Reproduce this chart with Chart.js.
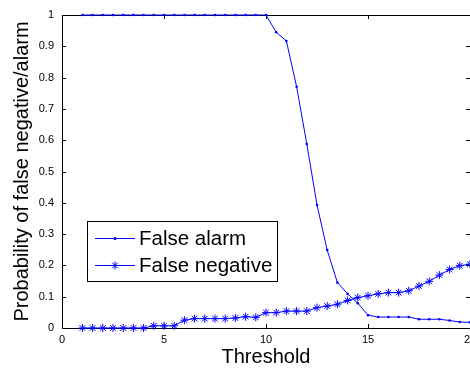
<!DOCTYPE html>
<html>
<head>
<meta charset="utf-8">
<script src="https://cdn.jsdelivr.net/npm/chart.js@4/dist/chart.umd.min.js"></script>
<style>
  html, body { margin: 0; padding: 0; background: #fff; overflow: hidden; }
  #wrap { width: 470px; height: 369px; overflow: hidden; position: relative; }
  canvas { display: block; }
</style>
</head>
<body>
<div id="wrap"><canvas id="thresholdChart" width="490" height="369" style="width:490px;height:369px"></canvas></div>
<script>
// threshold values on the x axis
const thresholds = [1, 1.5, 2, 2.5, 3, 3.5, 4, 4.5, 5, 5.5, 6, 6.5, 7, 7.5, 8, 8.5, 9, 9.5, 10,
	10.5, 11, 11.5, 12, 12.5, 13, 13.5, 14, 14.5, 15, 15.5, 16, 16.5, 17, 17.5, 18, 18.5, 19, 19.5, 20];

const falseAlarm = [1, 1, 1, 1, 1, 1, 1, 1, 1, 1, 1, 1, 1, 1, 1, 1, 1, 1, 1,
	0.945, 0.917, 0.771, 0.588, 0.393, 0.249, 0.145, 0.109, 0.079, 0.041, 0.035, 0.035, 0.035, 0.035,
	0.028, 0.028, 0.028, 0.024, 0.019, 0.018];

const falseNegative = [0, 0, 0, 0, 0, 0, 0, 0.007, 0.007, 0.007, 0.025, 0.03, 0.03, 0.03, 0.03,
	0.032, 0.036, 0.034, 0.049, 0.049, 0.054, 0.054, 0.054, 0.065, 0.07, 0.076, 0.088, 0.097, 0.103,
	0.109, 0.113, 0.113, 0.119, 0.134, 0.149, 0.169, 0.187, 0.199, 0.204];

const xTickStep = 5;
const yTickStep = 0.1;

const seriesLabels = ['False alarm', 'False negative'];
const FONT = '"Liberation Sans", Arial, Helvetica, sans-serif';
const BLUE = '#0000ff';

function toPoints(ys) {
	return thresholds.map((x, i) => ({ x: x, y: ys[i] }));
}

// MATLAB style box with inward ticks
const boxPlugin = {
	id: 'matlabBox',
	beforeDatasetsDraw: (chart) => {
		const { ctx, chartArea } = chart;
		const { left, right, top, bottom } = chartArea;
		const xs = chart.scales.x, ys = chart.scales.y;
		ctx.save();
		ctx.strokeStyle = '#000';
		ctx.lineWidth = 1;
		ctx.beginPath();
		xs.ticks.forEach(t => {
			const px = Math.round(xs.getPixelForValue(t.value)) + 0.5;
			ctx.moveTo(px, bottom); ctx.lineTo(px, bottom - 4);
			ctx.moveTo(px, top); ctx.lineTo(px, top + 4);
		});
		ys.ticks.forEach(t => {
			const py = Math.round(ys.getPixelForValue(t.value)) + 0.5;
			ctx.moveTo(left, py); ctx.lineTo(left + 4, py);
			ctx.moveTo(right, py); ctx.lineTo(right - 4, py);
		});
		ctx.stroke();
		ctx.strokeRect(Math.round(left) + 0.5, Math.round(top) + 0.5, Math.round(right - left), Math.round(bottom - top));
		ctx.restore();
	}
};

function drawStar(ctx, x, y, r) {
	ctx.beginPath();
	for (let k = 0; k < 4; k++) {
		const a = k * Math.PI / 4;
		ctx.moveTo(x - r * Math.cos(a), y - r * Math.sin(a));
		ctx.lineTo(x + r * Math.cos(a), y + r * Math.sin(a));
	}
	ctx.stroke();
}

const legendPlugin = {
	id: 'boxLegend',
	afterDraw: (chart) => {
		const ctx = chart.ctx;
		const bx = 87.5, by = 221.5, bw = 190, bh = 60;
		ctx.save();
		ctx.fillStyle = '#fff';
		ctx.fillRect(bx, by, bw, bh);
		ctx.strokeStyle = '#000';
		ctx.lineWidth = 1;
		ctx.strokeRect(bx, by, bw, bh);

		const rows = [238, 265];
		ctx.font = `20.5px ${FONT}`;
		ctx.textBaseline = 'middle';
		rows.forEach((ry, i) => {
			ctx.strokeStyle = BLUE;
			ctx.lineWidth = 1;
			ctx.beginPath();
			ctx.moveTo(95, ry + 0.5); ctx.lineTo(135, ry + 0.5);
			ctx.stroke();
			if (i === 0) {
				ctx.fillStyle = BLUE;
				ctx.beginPath(); ctx.arc(115, ry + 0.5, 1.5, 0, Math.PI * 2); ctx.fill();
			} else {
				drawStar(ctx, 115, ry + 0.5, 4);
			}
			ctx.fillStyle = '#000';
			ctx.fillText(seriesLabels[i], 139, ry + 1);
		});
		ctx.restore();
	}
};

const config = {
	type: 'line',
	data: {
		datasets: [{
			label: seriesLabels[0],
			data: toPoints(falseAlarm),
			borderColor: BLUE,
			backgroundColor: BLUE,
			borderWidth: 1,
			pointStyle: 'circle',
			pointRadius: 1.3,
			pointBorderWidth: 0,
			tension: 0
		}, {
			label: seriesLabels[1],
			data: toPoints(falseNegative),
			borderColor: BLUE,
			backgroundColor: BLUE,
			borderWidth: 1,
			pointStyle: 'star',
			pointRadius: 4,
			pointBorderWidth: 1,
			tension: 0
		}]
	},
	options: {
		responsive: false,
		animation: false,
		clip: false,
		layout: { padding: { left: 0, top: 15, right: 20, bottom: 0 } },
		plugins: { legend: { display: false }, tooltip: { enabled: false } },
		scales: {
			x: {
				type: 'linear',
				min: 0, max: 20,
				afterFit: (s) => { s.height = 41; },
				grid: { display: false, drawTicks: false },
				border: { display: false },
				ticks: { stepSize: xTickStep, padding: 5, color: '#000', font: { family: FONT, size: 11 }, maxRotation: 0 },
				title: { display: true, text: 'Threshold', color: '#000', font: { family: FONT, size: 20 }, padding: { top: 0, bottom: 0 } }
			},
			y: {
				min: 0, max: 1,
				afterFit: (s) => { s.width = 62; },
				grid: { display: false, drawTicks: false },
				border: { display: false },
				ticks: {
					stepSize: yTickStep, padding: 8, color: '#000', font: { family: FONT, size: 11 },
					callback: (v) => String(+v.toFixed(1))
				},
				title: { display: true, text: 'Probability of false negative/alarm', color: '#000', font: { family: FONT, size: 20 }, padding: { top: 10, bottom: 0 } }
			}
		}
	},
	plugins: [boxPlugin, legendPlugin]
};

new Chart(document.getElementById('thresholdChart').getContext('2d'), config);
</script>
</body>
</html>
